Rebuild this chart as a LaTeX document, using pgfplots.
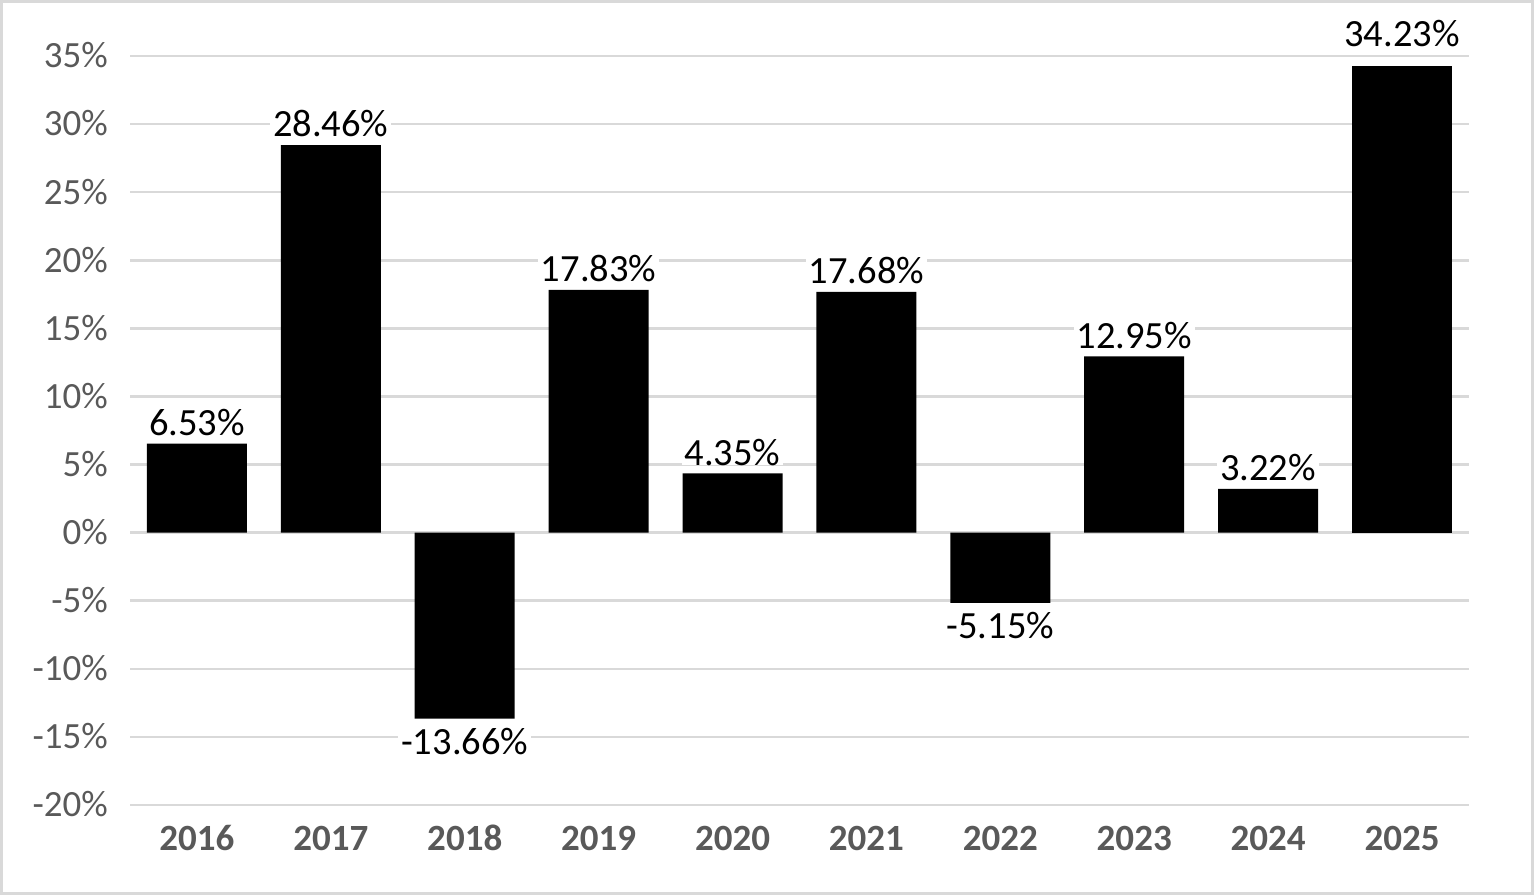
\documentclass[border=0pt]{standalone}
\usepackage{fontspec}
\setmainfont{Carlito}
\usepackage{pgfplots}
\pgfplotsset{compat=1.18}
\definecolor{gridc}{HTML}{D9D9D9}
\definecolor{tickc}{HTML}{595959}
\newcommand{\tickfont}{\fontsize{37bp}{44bp}\selectfont}
\newcommand{\labfont}{\fontsize{38.5bp}{46bp}\selectfont}
\begin{document}
\begin{tikzpicture}
\useasboundingbox (0bp,0bp) rectangle (1534bp,895bp);
\begin{axis}[
  at={(130bp,90bp)}, anchor=south west,
  scale only axis, width=1339bp, height=749bp,
  ymin=-20, ymax=35, ytick={-20,-15,...,35},
  xmin=-0.5, xmax=9.5, xtick={0,1,2,3,4,5,6,7,8,9},
  xticklabels={2016,2017,2018,2019,2020,2021,2022,2023,2024,2025},
  ybar, bar width=100bp,
  axis line style={draw=none},
  major tick length=0pt,
  ymajorgrids, major grid style={color=gridc, line width=2.5bp},
  /pgf/number format/assume math mode=true,
  yticklabel={\pgfmathprintnumber{\tick}\%},
  yticklabel style={font=\tickfont, text=tickc, anchor=east, inner sep=0pt, xshift=-22bp, text height=23.7bp, text depth=0pt},
  xticklabel style={font=\tickfont\bfseries, text=tickc, anchor=north, inner sep=0pt, yshift=-22bp, text height=23.7bp, text depth=0pt},
  every node near coord/.style={font=\labfont, text=black, fill=white, inner xsep=3bp, inner ysep=0pt, text height=25bp, text depth=0pt},
  nodes near coords={\pgfmathprintnumber[fixed,fixed zerofill,precision=2]{\pgfplotspointmeta}\%},
]
\addplot[fill=black, draw=none, bar shift=0pt,
  every node near coord/.append style={anchor=south, yshift=8bp}]
  coordinates {(0,6.53) (1,28.46) (3,17.83) (4,4.35) (5,17.68) (7,12.95) (8,3.22)};
\addplot[fill=black, draw=none, bar shift=0pt,
  every node near coord/.append style={anchor=south, yshift=20bp, fill=none}]
  coordinates {(9,34.23)};
\addplot[fill=black, draw=none, bar shift=0pt,
  every node near coord/.append style={anchor=north, yshift=-11bp}]
  coordinates {(2,-13.66) (6,-5.15)};
\end{axis}
\draw[gridc, line width=3bp] (1.5bp,1.5bp) rectangle (1532.5bp,893.5bp);
\end{tikzpicture}
\end{document}
